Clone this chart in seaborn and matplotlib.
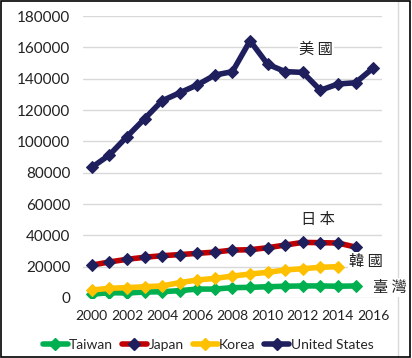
import matplotlib
matplotlib.use("Agg")
import matplotlib.pyplot as plt
import seaborn as sns
import pandas as pd
from matplotlib.patches import Rectangle
from matplotlib.lines import Line2D

years_us = list(range(2000, 2017))
us = [83400, 91300, 103000, 114400, 125900, 131000, 136000, 142300, 144500,
      164200, 149200, 144500, 144000, 132600, 136600, 137400, 146800]
years_jp = list(range(2000, 2016))
japan = [21000, 23000, 24700, 26000, 27000, 27700, 28500, 29300, 30600,
         30800, 32100, 33800, 35500, 35300, 35100, 32500]
years_kr = list(range(2000, 2015))
korea = [5100, 6200, 6600, 7200, 7700, 9800, 11500, 12500, 14000,
         15300, 16400, 17900, 18700, 19600, 20000]
years_tw = list(range(2000, 2016))
taiwan = [2400, 3400, 3200, 3800, 4000, 4700, 5700, 5700, 6600,
          6800, 7200, 7500, 7700, 7700, 7500, 7700]

series_names = ["Taiwan", "Japan", "Korea", "United States"]
line_colors = ["#00B050", "#C00000", "#FFC000", "#1F1F5E"]
marker_colors = ["#00B050", "#1F1F5E", "#FFC000", "#1F1F5E"]
cn_labels = ["臺 灣", "日 本", "韓 國", "美 國"]
xticks = list(range(2000, 2017, 2))
yticks = list(range(0, 180001, 20000))

frames = []
for name, yrs, vals in [("Taiwan", years_tw, taiwan), ("Japan", years_jp, japan),
                        ("Korea", years_kr, korea), ("United States", years_us, us)]:
    frames.append(pd.DataFrame({"year": yrs, "value": vals, "country": name}))
df = pd.concat(frames, ignore_index=True)

sns.set_style("white")
plt.rcParams["font.family"] = ["Lato", "Noto Sans CJK TC", "DejaVu Sans"]

fig = plt.figure(figsize=(4.12, 3.58), dpi=100)
fig.lines.append(Line2D([398 / 412, 398 / 412], [0.004, 0.996], transform=fig.transFigure,
                        color="#D9D9D9", linewidth=1, zorder=-5))
ax = fig.add_axes([0.2015, 0.1676, 0.7255, 0.7877])
ax.patch.set_alpha(0)

for name, lc, mc in zip(series_names, line_colors, marker_colors):
    sub = df[df["country"] == name]
    sns.lineplot(data=sub, x="year", y="value", ax=ax, color=lc, linewidth=4,
                 marker="D", markersize=6.5, markerfacecolor=mc,
                 markeredgecolor=mc, legend=False, zorder=3)

ax.set_xlim(1999.5, 2016.5)
ax.set_ylim(0, 180000)
ax.set_xticks(xticks)
ax.set_xticklabels([str(x) for x in xticks], fontsize=10, color="#222222")
ax.set_yticks(yticks)
ax.set_yticklabels([str(y) for y in yticks], fontsize=11, color="#222222")
ax.tick_params(axis="y", length=0, pad=9)
ax.tick_params(axis="x", length=0, pad=9)
ax.set_xlabel("")
ax.set_ylabel("")
ax.grid(axis="y", color="#D9D9D9", linewidth=1)
ax.set_axisbelow(True)
for s in ax.spines.values():
    s.set_visible(False)

cjk = ["Noto Sans CJK TC"]
label_pos = [(2016.95, 6800), (2012.87, 49800), (2015.57, 23200), (2012.76, 158900)]
for txt, (lx, ly) in zip(cn_labels, label_pos):
    t = ax.text(lx, ly, txt, fontsize=11, family=cjk, color="#222222",
                ha="center", va="center", fontweight="light", clip_on=False)
    t.set_bbox(dict(facecolor="white", edgecolor="none", pad=0.5))

handles = [Line2D([0], [0], color=lc, linewidth=4, marker="D", markersize=6.5,
                  markerfacecolor=mc, markeredgecolor=mc)
           for lc, mc in zip(line_colors, marker_colors)]
fig.legend(handles, series_names, loc="center", bbox_to_anchor=(0.505, 0.036),
           ncol=4, frameon=False, fontsize=10, handlelength=1.8,
           handletextpad=0.1, columnspacing=0.65, borderaxespad=0)

fig.patches.append(Rectangle((0.003, 0.004), 0.993, 0.992, transform=fig.transFigure,
                             fill=False, edgecolor="black", linewidth=1.2))

fig.savefig("out.png", dpi=100)
